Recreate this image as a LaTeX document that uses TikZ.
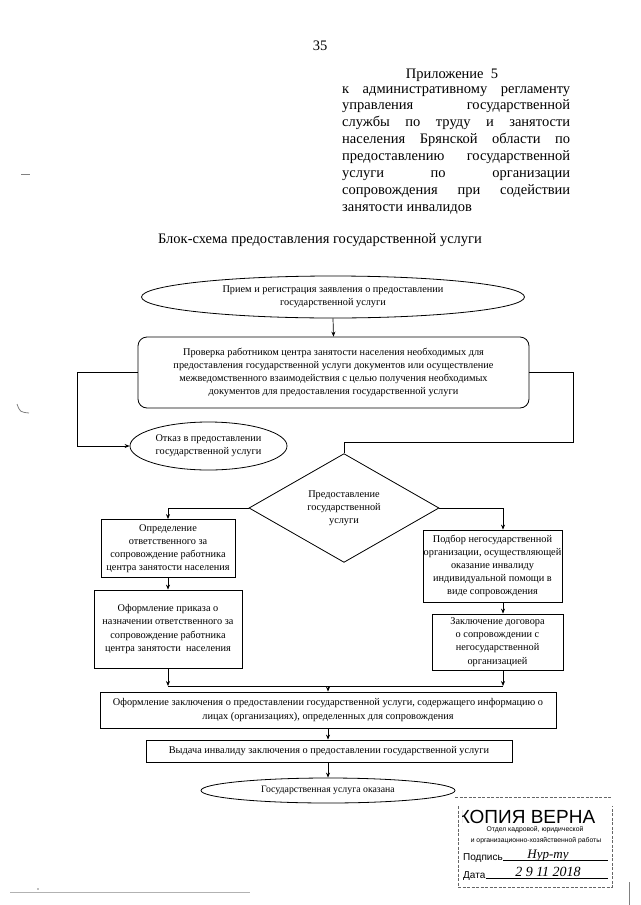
\documentclass[tikz,border=0pt]{standalone}
\usepackage{fontspec}
\setmainfont{Liberation Serif}
\newfontfamily\stampfont{Liberation Sans}
\usetikzlibrary{shapes.geometric,arrows.meta}
\begin{document}
\begin{tikzpicture}[x=1pt,y=-1pt,
  txt/.style={font=\fontsize{10.3}{13.2}\selectfont, align=center, inner sep=0pt},
  box/.style={draw, line width=0.8pt, txt},
  rbox/.style={draw, line width=0.8pt, rounded corners=9pt, txt},
  ell/.style={ellipse, draw, line width=0.8pt, txt},
  dia/.style={diamond, draw, line width=0.8pt, txt},
  arr/.style={-{Stealth[length=5pt,width=4pt]}, line width=0.7pt},
  ln/.style={line width=0.7pt},
  hdr/.style={font=\fontsize{14.5}{17}\selectfont, inner sep=0pt},
  stamp/.style={gray!80!black, line width=0.6pt, dash pattern=on 3pt off 1.5pt}
]
\useasboundingbox (0,0) rectangle (640,905);

% ---- header ----
\node[hdr, anchor=base] (pg) at (320,50) {35};
\node[hdr, anchor=base] (app) at (452,78) {Приложение\ \ 5};
\node[hdr, anchor=base west] (hdrtext) at (342,93) {\parbox[t]{228pt}{\fontsize{14.5}{16.9}\selectfont
\makebox[228pt][s]{к административному регламенту}\\
\makebox[228pt][s]{управления государственной}\\
\makebox[228pt][s]{службы по труду и занятости}\\
\makebox[228pt][s]{населения Брянской области по}\\
\makebox[228pt][s]{предоставлению государственной}\\
\makebox[228pt][s]{услуги по организации}\\
\makebox[228pt][s]{сопровождения при содействии}\\
занятости инвалидов}};
\node[hdr, anchor=base] (title) at (320,243) {Блок-схема предоставления государственной услуги};

% ---- flowchart ----
\node[ell, minimum width=383pt, minimum height=42pt] (e1) at (333,297)
  {Прием и регистрация заявления о предоставлении\\государственной услуги};
\node[rbox, minimum width=391pt, minimum height=71pt] (b2) at (333.5,372.5)
  {Проверка работником центра занятости населения необходимых для\\
   предоставления государственной услуги документов или осуществление\\
   межведомственного взаимодействия с целью получения необходимых\\
   документов для предоставления государственной услуги};
\node[ell, minimum width=157pt, minimum height=48pt] (e3) at (208.5,446)
  {Отказ в предоставлении\\государственной услуги};
\node[dia, minimum width=190pt, minimum height=84pt] (d1) at (344,508)
  {Предоставление\\государственной\\услуги};
\node[box, minimum width=134pt, minimum height=58pt] (o1) at (168,548.5)
  {Определение\\ответственного за\\сопровождение работника\\центра занятости населения};
\node[box, minimum width=148pt, minimum height=78pt] (o2) at (168,629)
  {Оформление приказа о\\назначении ответственного за\\сопровождение работника\\центра занятости\ \ населения};
\node[box, minimum width=139pt, minimum height=72pt] (p1) at (492.5,566)
  {Подбор негосударственной\\организации, осуществляющей\\оказание инвалиду\\индивидуальной помощи в\\виде сопровождения};
\node[box, minimum width=131pt, minimum height=56pt] (z2) at (497.5,642)
  {Заключение договора\\о сопровождении с\\негосударственной\\организацией};
\node[box, minimum width=456pt, minimum height=36pt] (f1) at (328,710)
  {Оформление заключения о предоставлении государственной услуги, содержащего информацию о\\
   лицах (организациях), определенных для сопровождения};
\node[box, minimum width=366pt, minimum height=22pt] (v1) at (329,751)
  {Выдача инвалиду заключения о предоставлении государственной услуги};
\node[ell, minimum width=254pt, minimum height=25pt, font=\fontsize{9.8}{12}\selectfont] (e4) at (328,790.5)
  {Государственная услуга оказана};

\coordinate (rc) at (503,0);
\coordinate (rt) at (573,442);
\coordinate (mL) at (168,686);
\coordinate (mR) at (503,686);
\coordinate (mC) at (328,686);

\draw[arr] (e1.south) -- (b2.north);
\draw[arr] (b2.west) -- ++(-60,0) |- (e3.west);
\draw[ln] (b2.east) -| (rt) -- (rt -| d1.north) -- (d1.north);
\draw[arr] (d1.west) -| (o1.north);
\draw[arr] (o1.south) -- (o2.north);
\draw[arr] (d1.east) -| (rc |- p1.north);
\draw[arr] (rc |- p1.south) -- (rc |- z2.north);
\draw[arr] (o2.south) -- (mL);
\draw[arr] (rc |- z2.south) -- (mR);
\draw[ln] (mL) -- (mR);
\draw[arr] (mC) -- (mC |- f1.north);
\draw[arr] (f1.south) -- (f1.south |- v1.north);
\draw[arr] (v1.south -| e4.north) -- (e4.north);

% ---- stamp ----
\draw[stamp] (455,797) -- (612,797);
\draw[stamp] (458,806) -- (458,887) -- (612,887) -- (612,806);
\begin{scope}
  \clip (462,804) rectangle (600,824.5);
  \node[font=\stampfont\fontsize{19}{19}\selectfont, anchor=base, inner sep=0pt] (kv) at (527,823) {КОПИЯ ВЕРНА};
\end{scope}
\node[font=\stampfont\fontsize{6.8}{8}\selectfont, inner sep=0pt] (s1) at (535,830) {Отдел кадровой, юридической};
\node[font=\stampfont\fontsize{6.8}{8}\selectfont, inner sep=0pt] (s2) at (536,841) {и организационно-хозяйственной работы};
\node[font=\stampfont\fontsize{10}{10}\selectfont, anchor=base west, inner sep=0pt] (s3) at (463,860) {Подпись};
\node[font=\stampfont\fontsize{10}{10}\selectfont, anchor=base west, inner sep=0pt] (s4) at (463,878) {Дата};
\draw[line width=0.6pt] (s3.base east) -- (608,860);
\draw[line width=0.6pt] (s4.base east) -- (608,878);
\node[font=\itshape\fontsize{13}{13}\selectfont, anchor=base, inner sep=0pt] (sig) at (548,858) {Hyp-my};
\node[font=\itshape\fontsize{14}{14}\selectfont, anchor=base, inner sep=0pt] (dt) at (548,876) {2 9 11 2018};

% ---- scan marks ----
\draw[line width=1pt, gray] (21,174) -- (30,174);
\draw[line width=0.8pt, gray] (17,404) .. controls (20,412) .. (29,413);
\draw[line width=0.6pt, gray!60] (10,892) -- (250,892);
\draw[line width=0.7pt, gray] (629,882) -- (629,905);
\fill[gray] (38,889) circle (0.8pt);
\end{tikzpicture}
\end{document}
